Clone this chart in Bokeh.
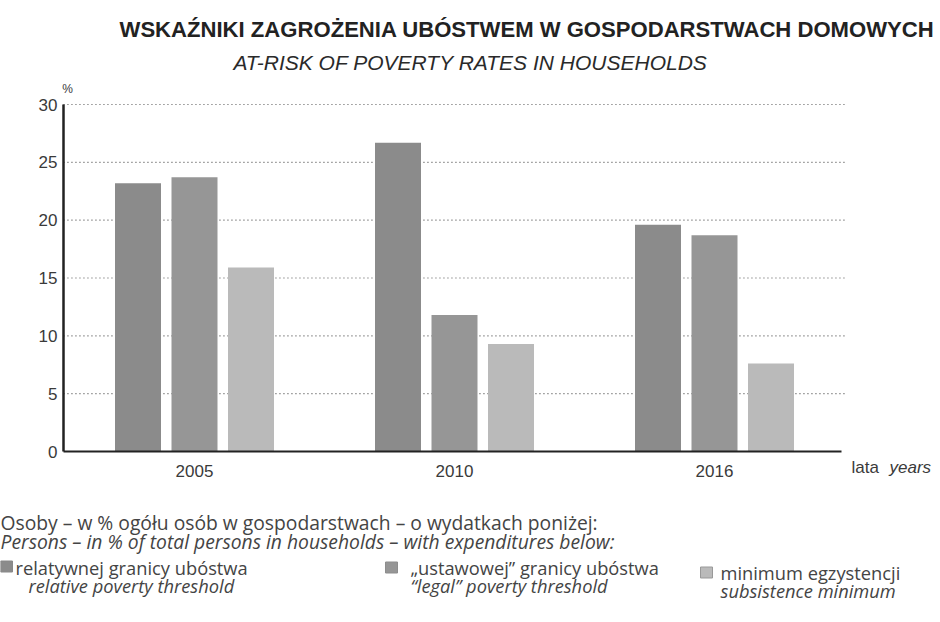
from bokeh.plotting import figure
from bokeh.models import Range1d, ColumnDataSource, FixedTicker
from bokeh.transform import dodge
from bokeh.core.properties import value
from bokeh.embed import file_html
from bokeh.resources import INLINE

# ---- data ----
years = ["2005", "2010", "2016"]
relative = [23.2, 26.7, 19.6]      # relatywnej granicy ubóstwa
legal = [23.7, 11.8, 18.7]         # "ustawowej" granicy ubóstwa
subsistence = [15.9, 9.3, 7.6]     # minimum egzystencji
y_ticks = [0, 5, 10, 15, 20, 25, 30]

series_names_pl = ["relatywnej granicy ubóstwa", "\u201eustawowej\u201d granicy ubóstwa", "minimum egzystencji"]
series_names_en = ["relative poverty threshold", "\u201clegal\u201d poverty threshold", "subsistence minimum"]
colors = ["#8b8b8b", "#969696", "#bababa"]

# ---- geometry ----
W, H = 940, 622
X0 = 194.0        # px of first group centre
GRP = 260.0       # px between groups
Y0 = 451.0        # px (from top) of value 0
UNIT = 347.0 / 30  # px per percent

x_range = Range1d(-X0 / GRP, (W - X0) / GRP)
y_range = Range1d(-(H - Y0) / UNIT, Y0 / UNIT)

p = figure(width=W, height=H, x_range=x_range, y_range=y_range,
           output_backend="svg", toolbar_location=None, min_border=0)
p.extra_x_ranges = {"px": Range1d(0, W)}
p.extra_y_ranges = {"px": Range1d(H, 0)}
p.outline_line_color = None
p.background_fill_color = "white"
p.border_fill_color = "white"
p.xgrid.visible = False
p.ygrid.visible = False

AX_START, AX_END, GRID_END = -0.504, 2.49, 2.50
TXT = "#3a3a3a"
FONT = value("Liberation Sans")

# grid lines (dotted)
gy = y_ticks[1:]
p.segment(x0=[AX_START] * len(gy), x1=[GRID_END] * len(gy), y0=gy, y1=gy,
          line_color="#555555", line_width=1.2, line_dash="1 3")

src = ColumnDataSource(dict(idx=list(range(len(years))), rel=relative, leg=legal, sub=subsistence))
BW = 46 / GRP
OFF = 56.5 / GRP
for col, off, c in [("rel", -OFF, colors[0]), ("leg", 0, colors[1]), ("sub", OFF, colors[2])]:
    p.vbar(x=dodge("idx", off), top=col, width=BW, source=src, fill_color=c, line_color=None)

# axes
xa = p.xaxis[0]
xa.fixed_location = 0
xa.bounds = (AX_START, AX_END)
xa.ticker = FixedTicker(ticks=list(range(len(years))))
xa.major_label_overrides = {i: y for i, y in enumerate(years)}
xa.major_tick_line_color = None
xa.minor_tick_line_color = None
xa.major_tick_out = 0
xa.major_label_standoff = 13
xa.axis_line_width = 2
xa.axis_line_color = "#222222"
xa.major_label_text_font = "Liberation Sans"
xa.major_label_text_font_size = "17px"
xa.major_label_text_color = TXT

ya = p.yaxis[0]
ya.fixed_location = AX_START
ya.bounds = (0, 30)
ya.ticker = FixedTicker(ticks=y_ticks)
ya.major_tick_line_color = None
ya.minor_tick_line_color = None
ya.major_tick_out = 0
ya.major_label_standoff = 6
ya.axis_line_width = 2.5
ya.axis_line_color = "#222222"
ya.major_label_text_font = "Liberation Sans"
ya.major_label_text_font_size = "17px"
ya.major_label_text_color = TXT


def txt(x, y, s, size="15px", style="normal", align="left", font=FONT, color=TXT):
    p.text(x=[x], y=[y], text=[s], x_range_name="px", y_range_name="px",
           text_font=font, text_font_size=size, text_font_style=style,
           text_align=align, text_baseline="middle", text_color=color)


# titles
txt(934, 29, "WSKAŹNIKI ZAGROŻENIA UBÓSTWEM W GOSPODARSTWACH DOMOWYCH", size="22.1px", style="bold", align="right", color="#222222")
txt(470, 62, "AT-RISK OF POVERTY RATES IN HOUSEHOLDS", size="21px", style="italic", align="center", color="#2a2a2a")
txt(67, 88, "%", size="12px", align="center")
txt(851, 467, "lata", size="17px")
txt(889, 467, "years", size="17px", style="italic")

# note
BF = value("Open Sans")
NC = "#444444"
txt(0, 522, "Osoby \u2013 w % ogółu osób w gospodarstwach \u2013 o wydatkach poniżej:", size="19.3px", font=BF, color=NC)
txt(0, 541, "Persons \u2013 in % of total  persons in households \u2013 with expenditures below:", size="19.3px", style="italic", font=BF, color=NC)

# legend
sw_x = [6, 391, 706]
sw_y = [566, 567, 572]
p.rect(x=sw_x, y=sw_y, width=12, height=11, x_range_name="px", y_range_name="px",
       fill_color=colors, line_color=["#888888", "#8d8d8d", "#999999"], line_width=1)
txt(15, 567, series_names_pl[0], size="18.3px", font=BF, color=NC)
txt(28, 585, series_names_en[0], size="18.3px", style="italic", font=BF, color=NC)
txt(410, 567, series_names_pl[1], size="18.3px", font=BF, color=NC)
txt(410, 585, series_names_en[1], size="18.3px", style="italic", font=BF, color=NC)
txt(720, 572, series_names_pl[2], size="18.3px", font=BF, color=NC)
txt(720, 590, series_names_en[2], size="18.3px", style="italic", font=BF, color=NC)

open("out.html", "w").write(file_html(p, INLINE))
